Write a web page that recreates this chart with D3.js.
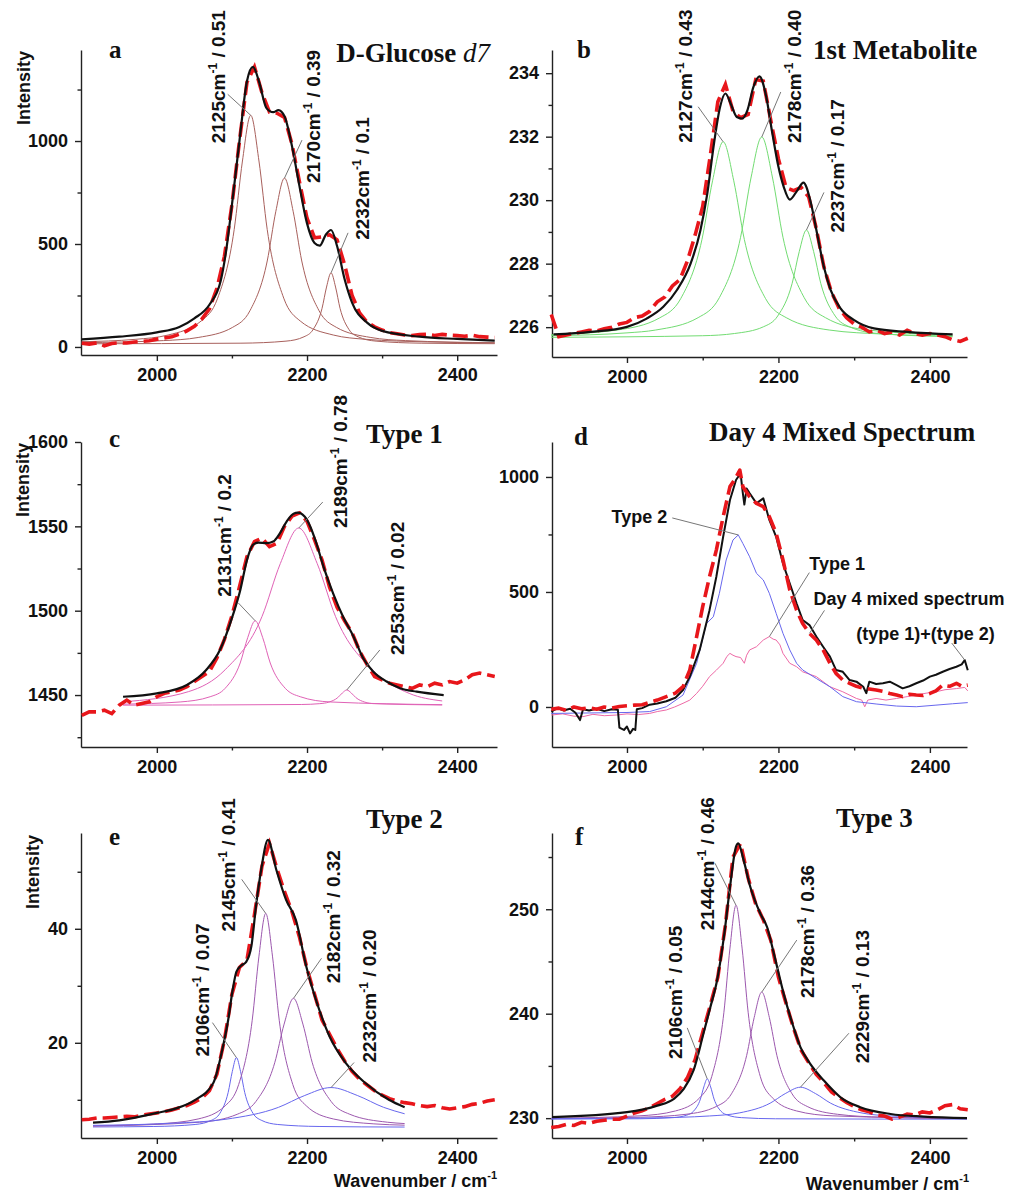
<!DOCTYPE html>
<html>
<head>
<meta charset="utf-8">
<script src="https://cdn.jsdelivr.net/npm/d3@7"></script>
<style>
body { margin: 0; background: #fff; }
svg text { font-family: "Liberation Sans", Arial, sans-serif; fill: #111; }
.axis path, .axis line { stroke: #222; stroke-width: 1.4; }
.axis text { font-family: "Liberation Sans", Arial, sans-serif; font-weight: bold; font-size: 18px; fill: #111; }
.serif { font-family: "Liberation Serif", "Times New Roman", serif !important; font-weight: bold; }
</style>
</head>
<body>
<svg id="chart" width="1014" height="1197"></svg>
<script>
// ---- shared x grid of the measured spectra (cm-1) ----
const wavenumbers = [1900, 1910, 1920, 1930, 1940, 1950, 1960, 1970, 1980, 1990,
    2000, 2010, 2020, 2030, 2040, 2050, 2060, 2070, 2080, 2090,
    2100, 2110, 2120, 2130, 2140, 2150, 2160, 2170, 2180, 2190,
    2200, 2210, 2220, 2230, 2240, 2250, 2260, 2270, 2280, 2290,
    2300, 2310, 2320, 2330, 2340, 2350, 2360, 2370, 2380, 2390,
    2400, 2410, 2420, 2430, 2440, 2450];
const xTicks = [2000, 2200, 2400];
const xMinorTicks = [2100, 2300];

// ---- a: D-Glucose d7 ----
const glucoseMeasured = [18, 14, 20, 6, 17, 20, 19, 24, 27, 30,
    38, 44, 50, 62, 78, 100, 135, 185, 285, 440,
    690, 1000, 1285, 1360, 1235, 1140, 1135, 1115, 985, 800,
    625, 530, 535, 545, 520, 400, 250, 165, 120, 98,
    82, 70, 64, 58, 55, 60, 62, 56, 61, 57,
    55, 52, 57, 50, 48, 46];
const glucoseFit = [[1900, 37], [1950, 50], [2000, 71], [2030, 97], [2050, 139], [2070, 205], [2085, 320], [2092, 460],
    [2100, 690], [2110, 1000], [2120, 1290], [2128, 1360], [2136, 1290], [2146, 1160], [2155, 1140], [2162, 1150],
    [2170, 1120], [2180, 975], [2190, 780], [2200, 600], [2210, 505], [2217, 492], [2225, 545], [2232, 568],
    [2240, 490], [2250, 330], [2260, 215], [2280, 118], [2300, 78], [2350, 50], [2400, 39], [2450, 31]];
const glucosePeak2125 = [[1900, 25.5], [1971, 37], [2015, 58], [2059, 126], [2081, 237], [2103, 570], [2114, 903], [2125, 1125],
    [2136, 903], [2147, 570], [2169, 237], [2191, 126], [2235, 58], [2279, 37], [2360, 24.6], [2450, 20]];
const glucosePeak2170 = [[1900, 20.8], [2009, 31], [2055, 46], [2101, 95.5], [2124, 176], [2147, 417.5], [2158.5, 659], [2170, 820],
    [2181.5, 659], [2193, 417.5], [2216, 176], [2239, 95.5], [2285, 46], [2331, 31], [2450, 20.4]];
const glucosePeak2232 = [[1900, 15.5], [2112, 18.4], [2172, 28.3], [2196, 49.5], [2208, 84], [2220, 187.5], [2226, 291], [2232, 360],
    [2238, 291], [2244, 187.5], [2256, 84], [2268, 49.5], [2292, 28.3], [2352, 18.4], [2450, 16]];
const glucoseTicks = [0, 500, 1000];
const glucoseMinor = [250, 750, 1250];

// ---- b: 1st Metabolite ----
const metabMeasured = [226.4, 225.7, 225.75, 225.8, 225.85, 225.9, 225.88, 225.95, 226.0, 226.1,
    226.15, 226.3, 226.35, 226.5, 226.8, 226.95, 227.3, 227.5, 228.1, 228.9,
    229.8, 231.4, 233.1, 233.65, 232.8, 232.6, 232.7, 233.8, 233.75, 232.5,
    231.3, 230.4, 230.3, 230.4, 230.1, 229.1, 227.9, 227.1, 226.6, 226.3,
    226.1, 226.0, 225.85, 225.9, 225.8, 225.85, 225.75, 225.9, 225.8, 225.75,
    225.8, 225.75, 225.7, 225.6, 225.55, 225.65];
const metabFit = [[1903, 225.77], [1952, 225.85], [2000, 226.01], [2026, 226.27], [2048, 226.64], [2066, 227.17], [2084, 228.0],
    [2097, 229.05], [2106, 230.2], [2115, 231.8], [2123, 232.94], [2130, 233.36], [2137, 233.04], [2145, 232.62],
    [2152, 232.57], [2159, 232.83], [2167, 233.57], [2175, 233.9], [2183, 233.36], [2192, 232.1], [2200, 231.05],
    [2207, 230.42], [2215, 230.02], [2225, 230.31], [2233, 230.55], [2242, 230.0], [2251, 228.95], [2260, 227.9],
    [2269, 227.17], [2282, 226.59], [2300, 226.22], [2326, 225.96], [2370, 225.85], [2430, 225.77]];
const metabPeak2127 = [[1900, 225.76], [1987, 225.91], [2043, 226.29], [2071, 226.9], [2099, 228.76], [2113, 230.61], [2127, 231.84],
    [2141, 230.61], [2155, 228.76], [2183, 226.9], [2211, 226.29], [2267, 225.91], [2340, 225.78], [2430, 225.72]];
const metabPeak2178 = [[1900, 225.73], [2000, 225.82], [2038, 225.91], [2094, 226.3], [2122, 226.93], [2150, 228.83], [2164, 230.73],
    [2178, 231.99], [2192, 230.73], [2206, 228.83], [2234, 226.93], [2262, 226.3], [2318, 225.91], [2430, 225.75]];
const metabPeak2237 = [[1900, 225.68], [2100, 225.73], [2142, 225.8], [2180, 226.01], [2199, 226.35], [2218, 227.37], [2227.5, 228.38],
    [2237, 229.06], [2246.5, 228.38], [2256, 227.37], [2275, 226.35], [2294, 226.01], [2332, 225.8], [2430, 225.7]];
const metabTicks = [226, 228, 230, 232, 234];
const metabMinor = [227, 229, 231, 233];

// ---- c: Type 1 ----
const type1Measured = [1438, 1440, 1440, 1441, 1439, 1444, 1447, 1444, 1445, 1446,
    1449, 1451, 1452, 1453, 1455, 1458, 1461, 1464, 1472, 1483,
    1497, 1514, 1532, 1541, 1543, 1538, 1540, 1550, 1556, 1558,
    1553, 1542, 1530, 1514, 1502, 1494, 1487, 1476, 1468, 1461,
    1459, 1457, 1456, 1455, 1454, 1456, 1455, 1457, 1456, 1458,
    1457, 1459, 1462, 1463, 1462, 1461];
const type1Fit = [[1955, 1449], [2000, 1451], [2040, 1456], [2066, 1465], [2084, 1476.7], [2102, 1498.4], [2111, 1512], [2120, 1530],
    [2128, 1539], [2135, 1540.3], [2146, 1540], [2155, 1541], [2164, 1546], [2173, 1553], [2182, 1557.5], [2188, 1558.1],
    [2200, 1553.8], [2211, 1542], [2222, 1526], [2235, 1510], [2248, 1496.4], [2262, 1484.6], [2275, 1471.7], [2288, 1464],
    [2306, 1458], [2324, 1454], [2346, 1452], [2382, 1450]];
const type1Peak2131 = [[1955, 1444.6], [2031, 1445.9], [2071, 1449], [2091, 1454], [2111, 1469], [2121, 1484], [2131, 1494],
    [2141, 1484], [2151, 1469], [2171, 1454], [2191, 1449], [2231, 1445.9], [2380, 1444.3]];
const type1Peak2189 = [[1955, 1446], [2042, 1452], [2091, 1465], [2140, 1496.5], [2164.5, 1528], [2189, 1549],
    [2213.5, 1528], [2238, 1496.5], [2287, 1465], [2336, 1451], [2380, 1446.5]];
const type1Peak2253 = [[1955, 1444], [2193, 1444.4], [2217, 1444.9], [2229, 1445.8], [2241, 1448.5], [2247, 1451.2], [2253, 1453],
    [2259, 1451.2], [2265, 1448.5], [2277, 1445.8], [2289, 1444.9], [2380, 1444.1]];
const type1Ticks = [1450, 1500, 1550, 1600];
const type1Minor = [1425, 1475, 1525, 1575];

// ---- d: Day 4 mixed spectrum ----
const day4Mixed = [[1900, -10], [1910, -5], [1920, -15], [1930, 0], [1940, -8], [1950, -3], [1960, -10], [1970, 0], [1980, -5],
    [1990, 2], [2000, 5], [2010, 8], [2020, 10], [2030, 20], [2040, 30], [2052, 45], [2064, 60], [2074, 88], [2083, 161],
    [2092, 306], [2100, 436], [2109, 566], [2118, 682], [2127, 827], [2136, 958], [2142, 987], [2149, 1030], [2153, 958],
    [2162, 914], [2171, 885], [2180, 871], [2188, 827], [2197, 755], [2206, 639], [2215, 508], [2224, 421], [2232, 363],
    [2241, 320], [2250, 291], [2259, 248], [2268, 190], [2276, 146], [2285, 117], [2294, 103], [2303, 90], [2312, 81],
    [2320, 78], [2329, 74], [2338, 68], [2347, 59], [2356, 52], [2364, 45], [2373, 55], [2382, 52], [2391, 50], [2400, 59],
    [2408, 70], [2417, 95], [2426, 90], [2435, 103], [2442, 90], [2450, 95]];
const day4Sum = [[1900, -20], [1908, -5], [1916, -15], [1925, -8], [1932, -25], [1938, -57], [1942, -10], [1950, -15], [1960, -8],
    [1970, -18], [1980, -10], [1988, -12], [1990, -90], [1996, -100], [2000, -85], [2004, -115], [2008, -95], [2011, -100],
    [2013, -10], [2020, -5], [2030, 10], [2040, 15], [2052, 25], [2064, 40], [2074, 74], [2083, 132], [2096, 248], [2109, 421],
    [2118, 566], [2127, 740], [2136, 900], [2144, 987], [2150, 1016], [2153, 930], [2155, 880], [2158, 950], [2162, 929],
    [2171, 885], [2180, 907], [2188, 813], [2197, 740], [2206, 624], [2215, 537], [2224, 450], [2232, 378], [2241, 356],
    [2250, 306], [2259, 262], [2268, 219], [2276, 161], [2285, 153], [2294, 117], [2303, 110], [2312, 88], [2316, 60],
    [2320, 110], [2329, 100], [2338, 103], [2347, 110], [2356, 95], [2364, 81], [2373, 90], [2382, 103], [2391, 115],
    [2400, 132], [2408, 140], [2417, 153], [2426, 165], [2435, 175], [2442, 185], [2446, 204], [2450, 160]];
const day4Type2 = [[1900, -28], [1950, -26], [2000, -24], [2030, -20], [2052, 1], [2074, 52], [2092, 190], [2105, 363], [2114, 392],
    [2122, 494], [2131, 639], [2140, 726], [2147, 748], [2153, 711], [2162, 653], [2171, 581], [2180, 552], [2188, 494],
    [2197, 407], [2206, 320], [2215, 248], [2224, 190], [2232, 161], [2250, 124], [2268, 88], [2285, 45], [2303, 23],
    [2329, 13], [2356, 4], [2382, 1], [2408, 8], [2430, 14], [2450, 19]];
const day4Type1 = [[1900, -35], [1915, -30], [1930, -40], [1942, -42], [1955, -32], [1970, -38], [1986, -35], [2000, -30],
    [2015, -33], [2030, -28], [2040, -20], [2052, -13], [2063, 0], [2074, 16], [2083, 30], [2092, 59], [2100, 90], [2109, 132],
    [2118, 160], [2127, 190], [2132, 220], [2136, 233], [2140, 225], [2144, 219], [2150, 215], [2155, 190], [2158, 225],
    [2162, 248], [2171, 262], [2180, 291], [2188, 306], [2193, 295], [2197, 291], [2202, 270], [2206, 233], [2215, 190],
    [2224, 175], [2232, 153], [2250, 132], [2268, 88], [2285, 66], [2303, 37], [2310, 30], [2314, 1], [2318, 30], [2329, 37],
    [2342, 30], [2356, 37], [2370, 45], [2382, 52], [2395, 60], [2408, 66], [2420, 75], [2435, 80], [2446, 85], [2450, 70]];
const day4Ticks = [0, 500, 1000];
const day4Minor = [250, 750];

// ---- e: Type 2 ----
const type2Measured = [6.5, 6.6, 6.8, 6.8, 6.9, 7.0, 7.1, 7.0, 7.3, 7.5,
    7.7, 7.9, 8.2, 8.6, 9.0, 9.6, 10.3, 11.6, 14.5, 20.5,
    28.5, 33.2, 34.5, 42.5, 51, 55, 50.5, 46.5, 43, 38.5,
    33, 28.5, 24, 21.5, 19, 16.8, 15, 13.6, 12.6, 11.6,
    10.8, 10.2, 9.8, 9.5, 9.3, 9.0, 8.8, 9.0, 8.6, 8.4,
    8.6, 8.8, 9.2, 9.4, 9.8, 10.0];
const type2Fit = [[1915, 6.0], [1950, 6.4], [2000, 7.7], [2026, 8.5], [2050, 9.9], [2075, 12.9], [2088, 19.3], [2095, 24],
    [2101, 29.3], [2106, 32.5], [2112, 33.5], [2119, 34.2], [2126, 37], [2132, 43.9], [2139, 50.4], [2148, 55.6],
    [2159, 50.4], [2172, 45.1], [2185, 41.6], [2199, 33.4], [2212, 27.5], [2230, 21.1], [2252, 16.4], [2278, 12.9],
    [2309, 10], [2330, 8.7]];
const type2Peak2106 = [[1915, 5.24], [1996, 5.32], [2051, 5.67], [2073, 6.42], [2084, 7.64], [2095, 11.3], [2100.5, 14.96], [2106, 17.4],
    [2111.5, 14.96], [2117, 11.3], [2128, 7.64], [2139, 6.42], [2161, 5.67], [2216, 5.32], [2330, 5.22]];
const type2Peak2145 = [[1915, 5.43], [2001, 5.78], [2055, 6.64], [2091, 8.95], [2109, 12.7], [2127, 23.95], [2136, 35.2], [2145, 42.7],
    [2154, 35.2], [2163, 23.95], [2181, 12.7], [2199, 8.95], [2235, 6.64], [2289, 5.78], [2330, 5.55]];
const type2Peak2182 = [[1915, 5.4], [2057, 6.07], [2107, 7.46], [2132, 9.72], [2157, 16.5], [2169.5, 23.28], [2182, 27.8],
    [2194.5, 23.28], [2207, 16.5], [2232, 9.72], [2257, 7.46], [2307, 6.07], [2330, 5.83]];
const type2Peak2232 = [[1915, 5.52], [2022, 5.9], [2092, 6.59], [2162, 8.68], [2197, 10.76], [2232, 12.15], [2267, 10.76],
    [2302, 8.68], [2330, 7.55]];
const type2Ticks = [20, 40];
const type2Minor = [10, 30, 50];

// ---- f: Type 3 ----
const type3Measured = [229.1, 229.2, 229.4, 229.3, 229.6, 229.5, 229.7, 229.8, 229.9, 229.9,
    230.2, 230.5, 230.7, 231.0, 231.4, 231.8, 232.1, 232.8, 233.9, 235.6,
    238.2, 240.8, 243.5, 248.5, 255, 256.3, 253, 250.5, 249, 247,
    243.5, 241, 238.6, 236.5, 235.3, 234.2, 233.4, 232.5, 232.0, 231.5,
    231.1, 230.8, 230.6, 230.3, 230.2, 229.9, 230.1, 230.4, 230.3, 230.6,
    230.5, 230.8, 231.2, 231.3, 230.9, 230.8];
const type3Fit = [[1901, 230.09], [2000, 230.57], [2040, 231.2], [2062, 231.85], [2075, 232.8], [2088, 234.6], [2101, 238.1],
    [2110, 240.6], [2119, 243.2], [2128, 247.35], [2136, 252.1], [2144, 256.0], [2147, 256.3], [2154, 254.7], [2163, 252.1],
    [2176, 249.6], [2185, 248.3], [2194, 245.75], [2207, 241.9], [2220, 238.7], [2229, 236.8], [2242, 235.2], [2260, 233.6],
    [2282, 232], [2308, 231.05], [2348, 230.4], [2392, 230.15], [2449, 230.0]];
const type3Peak2106 = [[1900, 229.91], [2016, 229.94], [2061, 230.05], [2079, 230.29], [2088, 230.67], [2097, 231.83], [2101.5, 232.99],
    [2106, 233.76], [2110.5, 232.99], [2115, 231.83], [2124, 230.67], [2133, 230.29], [2151, 230.05], [2196, 229.94], [2449, 229.9]];
const type3Peak2144 = [[1900, 229.99], [2016, 230.22], [2064, 230.69], [2096, 231.95], [2112, 234.0], [2128, 240.14], [2136, 246.28],
    [2144, 250.38], [2152, 246.28], [2160, 240.14], [2176, 234.0], [2192, 231.95], [2224, 230.69], [2272, 230.22], [2449, 229.96]];
const type3Peak2178 = [[1900, 229.96], [2018, 230.09], [2078, 230.37], [2118, 231.12], [2138, 232.33], [2158, 235.99], [2168, 239.64],
    [2178, 242.07], [2188, 239.64], [2198, 235.99], [2218, 232.33], [2238, 231.12], [2278, 230.37], [2338, 230.09], [2449, 229.97]];
const type3Peak2229 = [[1900, 229.95], [2029, 230.02], [2109, 230.21], [2149, 230.51], [2189, 231.43], [2209, 232.35], [2229, 232.96],
    [2249, 232.35], [2269, 231.43], [2309, 230.51], [2349, 230.21], [2449, 230.0]];
const type3Ticks = [230, 240, 250];
const type3Minor = [235, 245, 255];

// ---- colours ----
const RED = "#e8161b", BROWN = "#a8605c", GREEN = "#72dc72", PINK = "#e062b6",
      PURPLE = "#9c58ae", BLUE = "#6767ee";

const svg = d3.select("#chart");

const panels = [
    {
        letter: "a", letterPos: [109, 58], title: [["D-Glucose ", "normal"], ["d7", "italic"]],
        titlePos: [490, 62], titleAnchor: "end", ylabel: [23, 88],
        left: 81, right: 497, top: 50, bottom: 355, xDomain: [1899, 2453], yDomain: [-39, 1442],
        yTicks: glucoseTicks, yMinor: glucoseMinor, measured: glucoseMeasured, fit: glucoseFit,
        peaks: [
            { data: glucosePeak2125, color: BROWN, nu: 2125, area: "0.51", lead: [-23, -21], label: [-33, 28] },
            { data: glucosePeak2170, color: BROWN, nu: 2170, area: "0.39", lead: [17.5, -38], label: [28.5, 5] },
            { data: glucosePeak2232, color: BROWN, nu: 2232, area: "0.1", lead: [17, -40], label: [31, -33] }
        ]
    },
    {
        letter: "b", letterPos: [577, 58], title: [["1st Metabolite", "normal"]],
        titlePos: [813, 59], titleAnchor: "start",
        left: 552, right: 967, top: 50, bottom: 357, xDomain: [1901, 2449], yDomain: [225.06, 234.73],
        yTicks: metabTicks, yMinor: metabMinor, measured: metabMeasured, fit: metabFit,
        peaks: [
            { data: metabPeak2127, color: GREEN, nu: 2127, area: "0.43", lead: [-25, -35], label: [-38, 1] },
            { data: metabPeak2178, color: GREEN, nu: 2178, area: "0.40", lead: [19, -45], label: [32, 6] },
            { data: metabPeak2237, color: GREEN, nu: 2237, area: "0.17", lead: [17.5, -37.6], label: [30.5, 2.4] }
        ]
    },
    {
        letter: "c", letterPos: [109, 447], title: [["Type 1", "normal"]],
        titlePos: [366, 443], titleAnchor: "start", ylabel: [22, 480],
        left: 81, right: 497, top: 442, bottom: 747, xDomain: [1899, 2453], yDomain: [1419.2, 1600],
        yTicks: type1Ticks, yMinor: type1Minor, measured: type1Measured, fit: type1Fit,
        peaks: [
            { data: type1Peak2131, color: PINK, nu: 2131, area: "0.2", lead: [-17, -18], label: [-31, -24] },
            { data: type1Peak2189, color: PINK, nu: 2189, area: "0.78", lead: [24, -26], label: [41, 0] },
            { data: type1Peak2253, color: PINK, nu: 2253, area: "0.02", lead: [33, -40], label: [50, -35] }
        ]
    },
    {
        letter: "d", letterPos: [574, 445], title: [["Day 4 Mixed Spectrum", "normal"]],
        titlePos: [709, 441], titleAnchor: "start",
        left: 552, right: 967, top: 442, bottom: 747, xDomain: [1901, 2449], yDomain: [-174, 1152],
        yTicks: day4Ticks, yMinor: day4Minor, mixed: true
    },
    {
        letter: "e", letterPos: [109, 845], title: [["Type 2", "normal"]],
        titlePos: [366, 828], titleAnchor: "start", ylabel: [32, 872], xlabel: [497, 1187],
        left: 81, right: 497, top: 833, bottom: 1138, xDomain: [1899, 2453], yDomain: [3.3, 56.8],
        yTicks: type2Ticks, yMinor: type2Minor, measured: type2Measured, fit: type2Fit,
        peaks: [
            { data: type2Peak2106, color: BLUE, nu: 2106, area: "0.07", lead: [-24, -35], label: [-34, -1] },
            { data: type2Peak2145, color: PURPLE, nu: 2145, area: "0.41", lead: [-24, -34], label: [-38, 18] },
            { data: type2Peak2182, color: PURPLE, nu: 2182, area: "0.32", lead: [28, -40], label: [39, -15] },
            { data: type2Peak2232, color: BLUE, nu: 2232, area: "0.20", lead: [23, -25], label: [38, -25] }
        ]
    },
    {
        letter: "f", letterPos: [575, 845], title: [["Type 3", "normal"]],
        titlePos: [836, 827], titleAnchor: "start", xlabel: [969, 1190],
        left: 552, right: 967, top: 833, bottom: 1138, xDomain: [1901, 2449], yDomain: [228.1, 257.3],
        yTicks: type3Ticks, yMinor: type3Minor, measured: type3Measured, fit: type3Fit,
        peaks: [
            { data: type3Peak2106, color: BLUE, nu: 2106, area: "0.05", lead: [-20, -51], label: [-32, -20] },
            { data: type3Peak2144, color: PURPLE, nu: 2144, area: "0.46", lead: [-21, -42], label: [-29, 25] },
            { data: type3Peak2178, color: PURPLE, nu: 2178, area: "0.36", lead: [35, -52], label: [45, 6] },
            { data: type3Peak2229, color: BLUE, nu: 2229, area: "0.13", lead: [48.5, -54], label: [61.5, -24] }
        ]
    }
];

// the day 4 panel has its own curves and callouts
const day4Curves = [
    { data: day4Type1, color: "#ee6aa6", width: 1, name: "Type 1" },
    { data: day4Type2, color: BLUE, width: 1, name: "Type 2" },
    { data: day4Sum, color: "#111", width: 2, name: "sum" },
    { data: day4Mixed, color: RED, width: 3.6, dash: "15,6", name: "mixed" }
];
const day4Callouts = [
    { text: "Type 2", curve: day4Type2, at: 2147, anchor: "end", lead: [-66, -17], label: [-71, -12] },
    { text: "Type 1", curve: day4Type1, at: 2188, anchor: "start", lead: [40, -64], label: [40, -67] },
    { text: "Day 4 mixed spectrum", curve: day4Mixed, at: 2241, anchor: "start", lead: [15, -23], label: [4, -28] },
    { text: "(type 1)+(type 2)", curve: day4Sum, at: 2446, anchor: "end", lead: [-13, -17], label: [30, -20] }
];

function superLabel(sel, before, after, size, supSize) {
    sel.append("tspan").text(before);
    sel.append("tspan").attr("dy", -size * 0.42).attr("font-size", supSize).text("-1");
    sel.append("tspan").attr("dy", size * 0.42).text(after);
}

function drawPanel(p) {
    const x = d3.scaleLinear().domain(p.xDomain).range([p.left, p.right]);
    const y = d3.scaleLinear().domain(p.yDomain).range([p.bottom, p.top]);
    const g = svg.append("g").attr("class", "panel-" + p.letter);

    const smooth = d3.line().x(d => x(d[0])).y(d => y(d[1])).curve(d3.curveMonotoneX);
    const raw = d3.line().x(d => x(d[0])).y(d => y(d[1]));

    // axes: major ticks with labels, minor ticks without
    g.append("g").attr("class", "axis").attr("transform", `translate(0,${p.bottom})`)
        .call(d3.axisBottom(x).tickValues(xTicks).tickSize(6).tickSizeOuter(0).tickPadding(7).tickFormat(d3.format("d")))
        .call(a => a.selectAll("text").attr("font-size", 19));
    g.append("g").attr("class", "axis").attr("transform", `translate(0,${p.bottom})`)
        .call(d3.axisBottom(x).tickValues(xMinorTicks).tickSize(3.5).tickFormat(""))
        .call(a => a.select(".domain").remove());
    g.append("g").attr("class", "axis").attr("transform", `translate(${p.left},0)`)
        .call(d3.axisLeft(y).tickValues(p.yTicks).tickSize(6).tickSizeOuter(0).tickPadding(7).tickFormat(d3.format("d")));
    g.append("g").attr("class", "axis").attr("transform", `translate(${p.left},0)`)
        .call(d3.axisLeft(y).tickValues(p.yMinor).tickSize(3.5).tickFormat(""))
        .call(a => a.select(".domain").remove());

    if (p.mixed) {
        day4Curves.forEach(c => {
            g.append("path").datum(c.data)
                .attr("d", raw)
                .attr("fill", "none")
                .attr("stroke", c.color)
                .attr("stroke-width", c.width)
                .attr("stroke-dasharray", c.dash || null)
                .attr("stroke-linejoin", "round");
        });
        day4Callouts.forEach(c => {
            const pt = c.curve.find(d => d[0] === c.at);
            const px = x(pt[0]), py = y(pt[1]);
            g.append("line")
                .attr("x1", px + c.lead[0]).attr("y1", py + c.lead[1])
                .attr("x2", px).attr("y2", py)
                .attr("stroke", "#777").attr("stroke-width", 1);
            g.append("text")
                .attr("x", px + c.label[0]).attr("y", py + c.label[1])
                .attr("text-anchor", c.anchor)
                .attr("font-weight", "bold").attr("font-size", 18)
                .text(c.text);
        });
    } else {
        // fitted components
        p.peaks.forEach(pk => {
            g.append("path").datum(pk.data)
                .attr("d", smooth)
                .attr("fill", "none")
                .attr("stroke", pk.color)
                .attr("stroke-width", 1);
        });

        // measured spectrum (red dashed)
        g.append("path").datum(wavenumbers.map((w, i) => [w, p.measured[i]]))
            .attr("d", raw)
            .attr("fill", "none")
            .attr("stroke", RED)
            .attr("stroke-width", 3.6)
            .attr("stroke-dasharray", "15,6");

        // cumulative fit
        g.append("path").datum(p.fit)
            .attr("d", smooth)
            .attr("fill", "none")
            .attr("stroke", "#111")
            .attr("stroke-width", 2.2);

        // peak callouts
        p.peaks.forEach(pk => {
            const top = d3.greatest(pk.data, d => d[1]);
            const px = x(top[0]), py = y(top[1]);
            g.append("line")
                .attr("x1", px + pk.lead[0]).attr("y1", py + pk.lead[1])
                .attr("x2", px).attr("y2", py)
                .attr("stroke", "#777").attr("stroke-width", 1);
            const t = g.append("text")
                .attr("transform", `translate(${px + pk.label[0] + 7},${py + pk.label[1]}) rotate(-90)`)
                .attr("font-weight", "bold").attr("font-size", 19);
            superLabel(t, `${pk.nu}cm`, ` / ${pk.area}`, 19, 12);
        });
    }

    // panel letter and title
    g.append("text").attr("class", "serif")
        .attr("x", p.letterPos[0]).attr("y", p.letterPos[1])
        .attr("font-size", 25).text(p.letter);
    const title = g.append("text").attr("class", "serif")
        .attr("x", p.titlePos[0]).attr("y", p.titlePos[1])
        .attr("text-anchor", p.titleAnchor)
        .attr("font-size", 27);
    p.title.forEach(s => {
        title.append("tspan").attr("font-style", s[1])
            .attr("font-weight", s[1] === "italic" ? "normal" : "bold").text(s[0]);
    });

    if (p.ylabel) {
        g.append("text")
            .attr("transform", `translate(${p.ylabel[0] + 6.5},${p.ylabel[1]}) rotate(-90)`)
            .attr("text-anchor", "middle")
            .attr("font-weight", "bold").attr("font-size", 18)
            .text("Intensity");
    }
    if (p.xlabel) {
        const t = g.append("text")
            .attr("x", p.xlabel[0]).attr("y", p.xlabel[1])
            .attr("text-anchor", "end")
            .attr("font-weight", "bold").attr("font-size", 18);
        superLabel(t, "Wavenumber / cm", "", 18, 11);
    }
}

panels.forEach(drawPanel);
</script>
</body>
</html>
